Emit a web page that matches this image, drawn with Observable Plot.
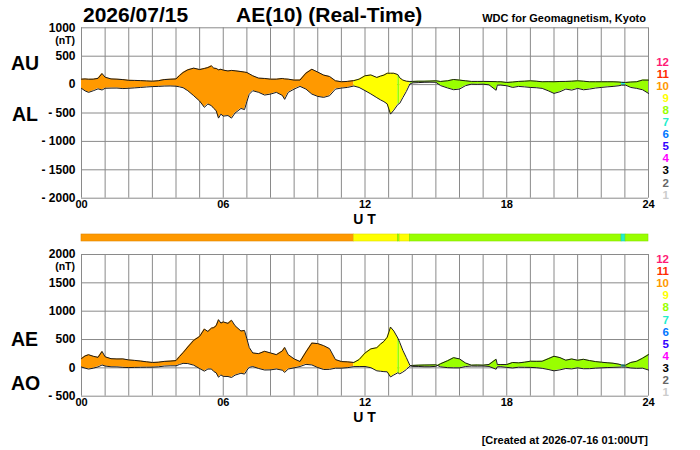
<!DOCTYPE html>
<html><head><meta charset="utf-8">
<script src="https://cdn.jsdelivr.net/npm/d3@7"></script>
<script src="https://cdn.jsdelivr.net/npm/@observablehq/plot@0.6"></script>
<style>
body{margin:0;background:#fff;}
#wrap{position:relative;width:700px;height:450px;overflow:hidden;}
#wrap > svg, #wrap > div{position:absolute;left:0;}
</style></head><body><div id="wrap"></div>
<script>
// ---- data (UT hours, nT) ----
const hours = [0,0.15,0.3,0.5,0.7,0.87,1,1.25,1.5,1.75,2,2.25,2.5,2.75,3,3.25,3.5,3.75,4,4.15,4.3,4.5,4.75,5,5.2,5.35,5.5,5.6,5.7,5.8,5.9,6,6.2,6.35,6.5,6.75,6.9,7,7.1,7.25,7.5,7.75,8,8.25,8.5,8.6,8.75,9,9.25,9.5,9.75,10,10.25,10.5,10.75,11,11.25,11.53,11.75,12,12.25,12.5,12.66,12.8,12.94,13.08,13.22,13.39,13.47,13.6,13.75,13.9,14,14.25,14.5,14.75,15,15.2,15.5,15.75,16,16.25,16.5,16.75,17,17.25,17.55,17.6,17.75,18,18.25,18.5,18.75,19,19.25,19.5,19.75,20,20.25,20.5,20.75,21,21.25,21.5,21.75,22,22.25,22.5,22.75,22.86,23.03,23.25,23.5,23.75,24];
const au = [96,100,95,96,110,195,130,100,96,88,75,74,70,65,60,68,88,95,100,160,213,260,290,265,284,300,330,290,285,260,270,255,240,250,243,230,220,213,190,155,114,108,96,96,108,100,96,79,80,202,270,220,167,143,67,50,56,70,96,155,170,126,150,167,200,200,200,176,120,80,60,55,56,60,60,62,67,55,67,90,79,67,56,56,56,55,52,50,50,38,45,56,60,67,60,50,52,50,55,56,60,67,60,50,50,50,50,50,45,40,38,45,50,80,79];
const al = [-67,-110,-137,-108,-75,-95,-65,-62,-61,-70,-65,-58,-50,-42,-35,-32,-26,-24,-28,-40,-55,-108,-196,-290,-400,-342,-371,-420,-459,-590,-520,-555,-545,-590,-500,-420,-440,-300,-170,-108,-137,-184,-167,-137,-190,-260,-137,-79,-32,-79,-167,-208,-225,-196,-79,-61,-50,-25,-50,-106,-165,-230,-270,-300,-340,-520,-450,-350,-330,-230,-120,10,30,35,40,42,40,-18,-60,-90,-79,-20,8,5,8,-5,-100,-10,-9,-20,-50,-32,-40,-50,-55,-67,-108,-155,-126,-79,-97,-67,-91,-79,-61,-50,-40,-32,-20,-10,-9,-50,-67,-91,-155];

// number of contributing stations (runs)
const stationStart = [0, 11.53, 13.39, 13.47, 13.9, 22.86, 23.03];
const stationEnd   = [11.53, 13.39, 13.47, 13.9, 22.86, 23.03, 24];
const stationCount = [10, 9, 8, 9, 8, 7, 8];

const countLabels = [12,11,10,9,8,7,6,5,4,3,2,1];
const countColors = ["#ff1a75","#ff2a00","#ff9900","#ffff00","#99ff00","#22eecc","#0077ff","#3300ff","#ff00ff","#000000","#666666","#cccccc"];

const xTicks = [0,6,12,18,24];
const hourGrid = d3.range(0, 25);
const topTicks = [-2000,-1500,-1000,-500,0,500,1000];
const bottomTicks = [-500,0,500,1000,1500,2000];

// ---- helpers ----
const colorOf = n => countColors[countLabels.indexOf(n)];
const rows = hours.map((t, i) => ({t, au: au[i], al: al[i], ae: au[i] - al[i], ao: (au[i] + al[i]) / 2}));
const segRows = [];
stationStart.forEach((s, k) => {
  rows.filter(r => r.t >= s - 1e-9 && r.t <= stationEnd[k] + 1e-9)
      .forEach(r => segRows.push({...r, seg: k, color: colorOf(stationCount[k])}));
});
const fmtY = d => d < 0 ? "- " + (-d) : String(d);
const fmtX = d => String(d).padStart(2, "0");
const FONT = "'Liberation Sans', Arial, Helvetica, sans-serif";
const GRID = "#8a8a8a";

function panel(opts) {
  return Plot.plot({
    width: 700, height: opts.height,
    marginLeft: 81, marginRight: 52, marginTop: opts.mt, marginBottom: opts.mb,
    style: {fontFamily: FONT, fontWeight: "bold", fontSize: "12px", background: "transparent", overflow: "visible"},
    x: {domain: [0, 24]},
    y: {domain: opts.domain},
    color: {type: "identity"},
    marks: [
      Plot.ruleX(hourGrid, {stroke: GRID, strokeWidth: 1}),
      Plot.ruleY(opts.ticks, {stroke: GRID, strokeWidth: 1}),
      Plot.areaY(segRows, {x: "t", y1: opts.lo, y2: opts.hi, z: "seg", fill: "color", curve: "linear"}),
      Plot.lineY(rows, {x: "t", y: opts.hi, stroke: "#1a1a1a", strokeWidth: 1}),
      Plot.lineY(rows, {x: "t", y: opts.lo, stroke: "#1a1a1a", strokeWidth: 1}),
      Plot.axisY({ticks: opts.ticks, tickFormat: fmtY, tickSize: 0, tickPadding: 6, label: null, fontSize: 12, fontWeight: "bold"}),
      Plot.axisX({ticks: xTicks, tickFormat: fmtX, tickSize: 0, tickPadding: 2, label: null, fontSize: 11, fontWeight: "bold"})
    ]
  });
}

const wrap = document.getElementById("wrap");

const topPlot = panel({height: 225, mt: 27.3, mb: 27.3, domain: [-2000, 1000], ticks: topTicks, lo: "al", hi: "au"});
topPlot.style.top = "0px";
wrap.appendChild(topPlot);

const barPlot = Plot.plot({
  width: 700, height: 7, marginLeft: 81, marginRight: 52, marginTop: 0, marginBottom: 0,
  style: {background: "transparent", overflow: "visible"},
  x: {domain: [0, 24], axis: null},
  color: {type: "identity"},
  marks: [
    Plot.barX(stationCount, {x1: (d, i) => stationStart[i], x2: (d, i) => stationEnd[i], fill: d => colorOf(d), stroke: d => d3.color(colorOf(d)).darker(0.4).formatHex(), strokeWidth: 0.6, inset: 0})
  ]
});
barPlot.style.top = "234px";
wrap.appendChild(barPlot);

const bottomPlot = panel({height: 200, mt: 27, mb: 31.3, domain: [-500, 2000], ticks: bottomTicks, lo: "ao", hi: "ae"});
bottomPlot.style.top = "227px";
wrap.appendChild(bottomPlot);

// ---- text overlay ----
const ov = d3.select(wrap).append("svg").attr("width", 700).attr("height", 450)
  .style("top", "0px").style("pointer-events", "none")
  .attr("font-family", FONT).attr("font-weight", "bold");
const txt = (x, y, s, size, anchor = "start", fill = "#000") =>
  ov.append("text").attr("x", x).attr("y", y).attr("font-size", size).attr("text-anchor", anchor).attr("fill", fill).text(s);

txt(83, 21.7, "2026/07/15", 21);
txt(236, 21.7, "AE(10) (Real-Time)", 21);
txt(646, 21.5, "WDC for Geomagnetism, Kyoto", 11, "end");
txt(11, 69.5, "AU", 19.5);
txt(12, 121, "AL", 19.5);
txt(11, 346, "AE", 19.5);
txt(11, 390, "AO", 19.5);
txt(75, 43.5, "(nT)", 10.5, "end");
txt(75, 270, "(nT)", 10.5, "end");
txt(364.5, 223.5, "U T", 14, "middle");
txt(364.5, 422, "U T", 14, "middle");
txt(648, 444, "[Created at 2026-07-16 01:00UT]", 11, "end");
countLabels.forEach((n, i) => {
  txt(669, 65.5 + i * 12.1, String(n), 11.5, "end", countColors[i]);
  txt(669, 263 + i * 12.1, String(n), 11.5, "end", countColors[i]);
});
</script></body></html>
